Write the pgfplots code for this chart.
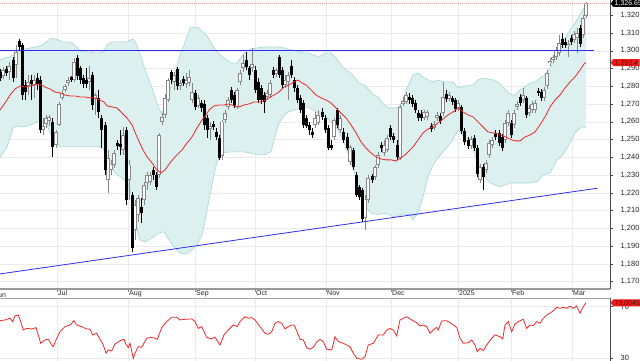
\documentclass[border=0pt]{standalone}
\usepackage{fontspec}
\setmainfont{Liberation Sans}
\usepackage{pgfplots}
\pgfplotsset{compat=1.18}
\usepackage{pgfplotstable}
\usepgfplotslibrary{fillbetween}
\usetikzlibrary{shapes.symbols}

\definecolor{bandfill}{RGB}{220,240,240}
\definecolor{bandline}{RGB}{165,214,214}
\definecolor{gridc}{RGB}{234,234,234}
\definecolor{bline}{RGB}{45,45,250}
\definecolor{rline}{RGB}{238,40,40}
\definecolor{tagred}{RGB}{250,20,20}
\definecolor{hollow}{RGB}{135,135,135}
\definecolor{pinkdot}{RGB}{250,165,165}

% down (black) candles: x open high low close
\pgfplotstableread{
x o h l c
0 1288.1 1289.8 1283.0 1284.7
6 1289.8 1291.5 1285.8 1287.5
13 1294.8 1296.5 1282.5 1284.7
19 1305.5 1306.7 1300.5 1302.2
22 1303.3 1304.4 1272.3 1275.1
25 1280.8 1283.6 1272.3 1276.8
31 1283.6 1286.4 1272.3 1281.3
37 1284.7 1287.5 1278.0 1281.3
40 1283.6 1285.8 1253.8 1255.4
52 1260.0 1262.2 1240.3 1245.9
71 1285.3 1285.8 1282.5 1283.6
77 1296.0 1297.7 1283.6 1285.8
80 1290.3 1291.5 1281.3 1283.6
83 1284.7 1286.4 1279.1 1281.3
86 1283.6 1290.3 1279.1 1281.3
92 1286.4 1288.1 1266.7 1269.5
98 1273.5 1278.0 1262.2 1265.6
101 1262.2 1263.9 1245.3 1255.4
105 1258.3 1260.0 1230.1 1232.9
117 1248.1 1249.8 1244.2 1246.4
120 1247.6 1255.4 1241.4 1245.9
126 1255.4 1257.1 1213.2 1216.1
132 1218.9 1220.6 1186.8 1189.1
141 1212.1 1217.2 1203.1 1208.7
153 1232.9 1234.6 1227.3 1230.1
156 1230.1 1231.8 1221.7 1223.4
171 1288.1 1289.2 1281.3 1283.6
177 1289.8 1290.9 1278.0 1280.2
183 1284.1 1285.8 1280.2 1281.9
195 1276.3 1278.0 1266.7 1268.4
201 1270.6 1272.3 1265.6 1267.8
204 1270.1 1272.3 1255.4 1258.3
207 1262.2 1263.9 1250.9 1255.4
213 1258.8 1260.5 1255.4 1257.1
216 1254.3 1256.6 1249.8 1251.5
219 1250.9 1252.6 1238.6 1239.7
231 1278.0 1279.6 1270.6 1272.3
234 1275.1 1276.8 1267.8 1269.5
246 1294.8 1299.3 1289.2 1290.9
249 1290.3 1291.5 1283.6 1286.4
255 1289.2 1291.5 1276.3 1278.0
258 1282.5 1284.7 1270.6 1272.3
261 1279.1 1280.8 1270.1 1272.3
264 1275.1 1276.8 1265.0 1271.2
273 1289.2 1290.9 1284.7 1286.4
279 1296.5 1297.7 1284.7 1286.4
282 1289.2 1290.9 1279.1 1280.8
291 1291.5 1294.8 1284.7 1286.4
294 1283.6 1285.3 1276.8 1279.1
297 1279.1 1280.8 1270.6 1272.3
300 1273.5 1275.1 1265.0 1266.7
303 1270.6 1272.3 1256.6 1258.3
306 1262.2 1263.9 1256.6 1257.7
309 1258.3 1260.0 1252.6 1255.4
312 1254.3 1256.6 1250.9 1252.6
322 1265.6 1267.8 1261.1 1262.8
325 1262.2 1263.9 1253.8 1255.4
328 1256.6 1258.3 1244.2 1245.3
331 1247.0 1249.8 1244.2 1245.3
337 1266.7 1267.8 1256.6 1258.3
343 1254.3 1256.6 1248.1 1249.8
347 1251.5 1253.8 1244.2 1245.3
353 1244.2 1245.3 1232.9 1234.6
356 1230.1 1231.8 1217.7 1218.9
359 1223.4 1224.5 1216.1 1217.7
362 1221.7 1222.8 1203.7 1205.4
372 1229.6 1230.7 1225.6 1227.3
381 1247.0 1248.7 1243.1 1245.3
390 1256.6 1258.3 1249.8 1251.5
393 1252.1 1253.8 1248.1 1249.8
397 1247.0 1249.8 1238.6 1240.3
409 1274.0 1276.3 1270.1 1272.3
412 1273.5 1275.1 1268.4 1270.1
415 1270.6 1272.3 1265.0 1266.7
418 1265.0 1266.7 1260.5 1262.2
421 1264.5 1266.7 1260.5 1262.2
431 1257.7 1259.4 1254.3 1256.0
440 1263.3 1265.0 1258.8 1260.5
446 1275.7 1278.0 1271.2 1272.9
452 1273.5 1274.6 1269.5 1271.2
455 1272.3 1273.5 1265.6 1267.3
461 1268.4 1269.5 1253.2 1254.9
464 1254.9 1256.6 1247.0 1248.7
468 1249.8 1251.5 1244.8 1246.4
474 1250.9 1252.6 1243.6 1245.3
477 1245.3 1247.0 1229.0 1230.7
483 1234.6 1236.3 1221.7 1229.0
495 1253.8 1255.4 1249.8 1251.5
499 1253.8 1255.4 1246.4 1248.1
502 1251.5 1253.2 1243.6 1245.3
511 1259.4 1261.1 1250.9 1252.6
520 1274.0 1275.7 1269.0 1270.6
526 1273.5 1274.6 1262.2 1263.9
538 1277.4 1279.1 1274.6 1276.3
541 1276.8 1278.5 1271.8 1273.5
562 1306.7 1310.0 1301.6 1303.3
565 1305.0 1307.2 1301.6 1303.3
571 1307.2 1308.9 1303.3 1305.0
580 1312.8 1314.5 1302.2 1303.8
}\down

% up (hollow) candles: x open high low close
\pgfplotstableread{
x o h l c
3 1285.8 1290.9 1284.1 1289.2
9 1288.1 1293.7 1283.6 1291.5
16 1292.0 1303.3 1284.7 1299.3
28 1280.2 1286.4 1275.1 1282.5
34 1280.8 1286.4 1273.5 1283.6
43 1255.4 1262.2 1252.6 1257.7
46 1258.8 1263.9 1256.6 1262.2
49 1260.5 1263.9 1257.7 1262.8
56 1247.0 1255.4 1245.3 1254.3
59 1258.3 1271.2 1257.7 1270.1
62 1273.5 1278.0 1272.3 1276.3
65 1278.0 1281.3 1276.8 1280.2
68 1281.9 1285.3 1280.2 1283.6
74 1283.6 1296.0 1282.5 1293.7
89 1282.5 1291.5 1278.0 1284.7
95 1272.9 1276.3 1263.9 1275.1
108 1227.3 1244.2 1220.0 1239.7
111 1232.9 1238.6 1230.1 1235.8
114 1235.8 1244.2 1234.1 1242.5
123 1244.2 1257.1 1241.4 1252.6
129 1227.3 1238.6 1216.1 1235.8
135 1199.2 1216.1 1193.6 1213.2
138 1207.6 1218.9 1203.7 1217.2
144 1216.1 1226.2 1213.2 1224.5
147 1225.6 1231.8 1221.7 1230.1
150 1226.2 1231.8 1224.5 1230.1
159 1230.1 1253.8 1228.4 1252.6
162 1260.0 1265.0 1258.3 1262.8
165 1263.9 1275.7 1262.2 1273.5
168 1272.3 1284.7 1271.2 1283.6
174 1282.5 1288.1 1278.0 1286.4
180 1280.2 1283.6 1278.0 1281.9
186 1281.3 1287.5 1279.1 1283.6
189 1281.9 1289.2 1280.2 1285.3
192 1272.3 1281.9 1270.6 1276.8
198 1269.0 1275.1 1267.8 1273.5
210 1256.0 1260.0 1249.8 1257.7
222 1240.8 1261.1 1238.6 1260.0
225 1261.1 1266.7 1259.4 1265.0
228 1268.4 1274.0 1266.7 1272.3
237 1268.4 1279.1 1267.3 1278.0
240 1282.5 1289.2 1280.8 1287.5
243 1290.3 1297.7 1288.1 1293.1
252 1290.3 1301.6 1288.1 1292.6
267 1274.0 1278.0 1272.3 1276.3
270 1275.1 1283.6 1273.5 1281.9
276 1287.0 1290.3 1285.3 1289.2
285 1280.8 1286.4 1279.1 1283.6
288 1282.5 1288.1 1272.3 1286.4
315 1258.3 1265.6 1256.6 1262.2
318 1259.4 1266.7 1258.3 1263.9
334 1251.5 1262.2 1249.8 1261.1
340 1255.4 1263.9 1253.8 1262.2
350 1237.4 1247.0 1235.8 1245.9
365 1205.9 1218.9 1199.2 1216.1
368 1216.1 1230.1 1214.4 1228.4
375 1229.0 1235.8 1227.3 1234.6
378 1235.8 1243.1 1234.1 1241.4
384 1242.5 1249.8 1240.8 1247.0
387 1244.2 1252.6 1243.1 1250.9
400 1239.7 1269.5 1238.6 1268.4
403 1270.1 1274.0 1269.0 1271.8
406 1271.2 1276.8 1270.1 1275.1
424 1262.2 1266.7 1261.1 1265.6
427 1262.8 1266.7 1261.1 1265.6
434 1256.6 1260.5 1255.4 1258.8
437 1262.2 1265.6 1260.5 1263.9
443 1265.0 1282.5 1263.3 1274.0
449 1272.9 1276.8 1271.8 1275.1
458 1267.8 1272.3 1266.1 1270.6
471 1246.4 1252.1 1244.8 1250.4
480 1227.3 1236.3 1225.6 1234.6
486 1232.9 1238.6 1231.3 1236.9
489 1241.4 1249.8 1239.7 1248.1
492 1247.0 1251.5 1245.3 1249.8
505 1249.8 1261.1 1248.1 1259.4
508 1259.4 1266.7 1257.7 1265.0
514 1258.3 1266.7 1256.6 1265.0
517 1268.4 1271.8 1266.7 1270.1
523 1272.3 1279.1 1270.6 1275.1
529 1265.0 1269.5 1263.3 1267.8
532 1266.7 1271.8 1265.0 1270.1
535 1266.7 1272.3 1265.0 1270.6
544 1273.5 1279.6 1271.8 1278.0
547 1280.2 1289.2 1278.5 1287.5
550 1293.1 1296.0 1291.5 1294.3
553 1294.8 1297.7 1293.1 1296.5
556 1296.5 1302.2 1294.8 1300.5
559 1298.8 1308.9 1297.1 1304.4
568 1302.7 1306.1 1296.5 1303.8
574 1306.1 1311.2 1304.4 1309.5
577 1307.2 1312.8 1298.8 1310.0
583 1308.9 1320.2 1307.2 1318.5
586 1319.6 1327.5 1318.5 1326.65
}\up

\pgfplotsset{
  candle/.style n args={2}{forget plot, draw=#1, line width=#2,
    quiver={u=0, every arrow/.append style={draw=#1, line width=#2, line cap=butt}}},
}

\begin{document}
\begin{tikzpicture}
\begin{axis}[
  at={(0pt,0pt)}, anchor=north west, scale only axis,
  width=610pt, height=289pt,
  xmin=0, xmax=610, ymin=1165.9, ymax=1328.6,
  clip mode=individual,
  axis x line*=bottom, axis y line*=right,
  x axis line style={draw=black!40, line width=1.2pt},
  y axis line style={draw=black!70, line width=0.6pt},
  tick align=outside, major tick length=2.5pt,
  xtick={57,128,195,255,326,391,458,511,572},
  xticklabels={Jul,Aug,Sep,Oct,Nov,Dec,2025,Feb,Mar},
  ytick={1170,1180,...,1320},
  xmajorgrids, ymajorgrids,
  grid style={draw=gridc, line width=0.6pt},
  xtick style={draw=black!50, line width=0.5pt},
  ytick style={draw=black!70, line width=0.5pt},
  xticklabel style={anchor=north west, font=\fontsize{7}{8}\selectfont, inner sep=0pt, xshift=1pt, yshift=1pt, text=black!85},
  yticklabel style={anchor=west, font=\fontsize{7.5}{8}\selectfont, inner sep=0pt, xshift=8pt, text=black!85},
  scaled y ticks=false,
  /pgf/number format/1000 sep={,},
  /pgf/number format/assume math mode=true,
]
% Bollinger bands
\addplot[name path=upper, draw=bandline, line width=0.6pt, forget plot] coordinates {
(0,1294.8)(5,1296.0)(10,1296.5)(15,1298.8)(20,1299.3)(25,1301.0)(30,1301.6)(35,1302.2)(40,1302.7)(45,1304.4)(50,1306.7)(53,1307.2)(58,1306.1)(63,1305.0)(70,1305.0)(75,1303.3)(80,1299.9)(85,1299.3)(90,1299.3)(95,1298.8)(100,1298.8)(103,1299.3)(107,1303.3)(112,1305.0)(120,1305.0)(127,1305.0)(133,1306.7)(137,1303.3)(142,1294.8)(147,1286.4)(152,1279.1)(157,1270.6)(161,1265.0)(165,1268.4)(169,1276.3)(174,1285.3)(179,1296.0)(185,1305.0)(190,1312.8)(194,1313.4)(199,1312.8)(204,1310.0)(207,1308.3)(211,1304.4)(217,1299.3)(224,1296.0)(231,1293.1)(237,1293.1)(244,1298.8)(251,1301.0)(257,1301.6)(264,1302.2)(271,1302.2)(277,1302.2)(284,1301.6)(291,1300.5)(297,1299.9)(304,1298.8)(308,1298.8)(313,1297.7)(319,1296.5)(326,1298.8)(331,1298.8)(336,1296.0)(341,1292.0)(346,1289.2)(353,1286.4)(359,1281.9)(364,1280.8)(369,1278.0)(374,1275.1)(379,1273.5)(384,1269.5)(389,1267.8)(394,1267.8)(399,1268.4)(403,1272.3)(406,1278.0)(410,1282.5)(413,1286.4)(418,1287.5)(423,1285.3)(428,1283.6)(433,1282.5)(438,1283.6)(443,1282.5)(448,1282.5)(453,1282.5)(458,1279.1)(463,1280.2)(468,1280.2)(473,1280.8)(478,1283.6)(483,1284.7)(488,1284.1)(493,1283.6)(498,1282.5)(503,1279.6)(508,1276.8)(512,1275.1)(515,1275.1)(520,1278.0)(525,1279.6)(530,1281.9)(535,1282.5)(540,1284.7)(545,1286.4)(550,1290.3)(555,1294.8)(560,1300.5)(565,1307.2)(570,1311.7)(575,1315.7)(580,1320.2)(584,1324.1)(586,1325.8)
};
\addplot[name path=lower, draw=bandline, line width=0.6pt, forget plot] coordinates {
(0,1240.3)(3,1242.5)(7,1245.9)(10,1250.9)(13,1256.6)(17,1257.7)(23,1257.1)(30,1258.3)(37,1260.0)(42,1260.0)(47,1258.3)(50,1253.8)(55,1248.7)(60,1245.9)(67,1245.9)(80,1245.9)(93,1245.9)(100,1245.9)(104,1244.2)(109,1236.9)(115,1231.3)(122,1228.4)(127,1226.2)(130,1221.7)(134,1212.1)(137,1199.2)(140,1193.6)(145,1192.4)(152,1194.7)(159,1197.5)(164,1198.1)(169,1193.6)(174,1189.6)(180,1186.2)(187,1185.7)(192,1187.9)(197,1190.7)(202,1196.4)(205,1203.7)(208,1213.2)(211,1221.7)(214,1230.1)(217,1237.4)(222,1242.5)(231,1243.1)(237,1243.1)(244,1243.1)(251,1242.5)(257,1241.4)(264,1241.4)(271,1243.1)(274,1249.8)(279,1259.4)(286,1265.0)(294,1266.7)(301,1267.8)(308,1268.4)(316,1265.6)(326,1262.8)(336,1257.1)(343,1249.8)(349,1240.3)(356,1229.0)(361,1220.0)(366,1212.1)(371,1208.7)(378,1207.6)(386,1208.7)(393,1206.5)(399,1207.1)(404,1208.2)(410,1207.6)(413,1204.8)(418,1208.7)(423,1217.7)(428,1229.0)(433,1235.8)(438,1239.7)(443,1243.1)(448,1246.4)(453,1249.8)(458,1255.4)(463,1252.1)(468,1248.7)(473,1244.8)(478,1236.9)(485,1229.0)(490,1225.6)(495,1224.5)(500,1223.4)(505,1224.5)(510,1225.6)(520,1225.6)(530,1225.6)(537,1226.2)(543,1230.1)(550,1231.3)(557,1238.6)(563,1241.4)(570,1248.1)(575,1253.8)(580,1256.6)(586,1256.6)
};
\addplot[bandfill, forget plot] fill between[of=upper and lower];

% wicks (vertical segments from low to high)
\addplot[candle={hollow}{0.7pt}, quiver={v=\thisrow{h}-\thisrow{l}}] table[x=x, y=l] {\up};
\addplot[candle={black}{0.7pt}, quiver={v=\thisrow{h}-\thisrow{l}}] table[x=x, y=l] {\down};
% hollow bodies (up candles): grey outline then white inside
\addplot[candle={hollow}{3.2pt}, quiver={v=\thisrow{c}-\thisrow{o}}] table[x=x, y=o] {\up};
\addplot[candle={white}{1.8pt}, quiver={v=\thisrow{c}-\thisrow{o}-0.7}] table[x=x, y expr={\thisrow{o}+0.35}] {\up};
% black bodies (down candles)
\addplot[candle={black}{3pt}, quiver={v=\thisrow{c}-\thisrow{o}}] table[x=x, y=o] {\down};

% 20-day moving average
\addplot[rline, line width=0.8pt, forget plot] coordinates {
(0,1266.7)(5,1270.6)(10,1275.1)(15,1278.5)(20,1280.2)(25,1279.6)(30,1280.2)(35,1280.8)(40,1281.3)(45,1279.6)(50,1278.5)(55,1276.8)(60,1276.3)(65,1275.1)(70,1274.6)(75,1274.6)(80,1274.0)(85,1274.0)(90,1273.5)(95,1273.5)(100,1272.3)(104,1271.2)(107,1269.0)(112,1268.4)(117,1267.8)(122,1265.0)(127,1262.2)(132,1258.3)(137,1251.5)(142,1245.3)(147,1240.3)(152,1236.9)(157,1232.9)(161,1231.3)(165,1232.9)(170,1236.9)(175,1240.3)(182,1244.2)(187,1248.1)(192,1251.5)(197,1256.6)(202,1261.1)(206,1263.9)(209,1266.7)(214,1269.0)(219,1269.5)(224,1269.5)(229,1270.1)(234,1269.0)(239,1268.4)(244,1269.5)(249,1270.1)(254,1271.2)(259,1271.2)(264,1271.8)(269,1273.5)(274,1275.1)(279,1276.8)(284,1279.6)(289,1280.8)(294,1282.5)(298,1283.6)(302,1281.9)(306,1280.8)(311,1278.0)(316,1275.1)(321,1273.5)(326,1272.3)(331,1270.6)(336,1267.8)(341,1265.0)(346,1262.2)(351,1258.3)(356,1253.8)(361,1248.7)(366,1245.3)(371,1242.5)(376,1240.3)(381,1239.1)(386,1238.6)(391,1238.6)(396,1238.0)(401,1239.7)(406,1241.9)(410,1244.2)(413,1245.9)(418,1249.8)(423,1253.8)(428,1256.0)(433,1257.1)(438,1259.4)(443,1261.6)(448,1263.9)(453,1265.6)(458,1267.8)(463,1265.6)(468,1263.9)(473,1262.8)(478,1260.0)(483,1257.1)(488,1254.3)(493,1253.8)(498,1253.2)(503,1252.1)(508,1250.9)(512,1249.8)(515,1249.3)(520,1249.3)(525,1251.5)(530,1252.6)(535,1254.3)(540,1258.3)(545,1262.8)(550,1268.4)(555,1272.3)(560,1275.1)(565,1279.1)(570,1282.5)(575,1285.3)(580,1289.2)(584,1292.6)(586,1293.4)
};
% horizontal resistance and rising trend line
\addplot[bline, line width=0.8pt, forget plot] coordinates {(0,1300.5) (594,1300.5)};
\addplot[bline, line width=0.8pt, forget plot] coordinates {(0,1174.4) (597,1222.6)};
% last price
\addplot[pinkdot, line width=0.7pt, dash pattern=on 1pt off 1pt, forget plot] coordinates {(0,1326.65) (610,1326.65)};

\node[anchor=north west, font=\fontsize{7}{8}\selectfont, inner sep=0pt, text=black!85] at (axis cs:-5.5,1165.9) [yshift=-3.5pt] {Jun};

\node[signal, signal to=west, signal pointer angle=110, fill=black, text=white,
  font=\fontsize{7}{7}\selectfont, inner xsep=1.5pt, inner ysep=1pt,
  text height=5pt, text depth=0pt, anchor=west] at (axis cs:610.5,1326.65) {1,326.65};
\node[signal, signal to=west, signal pointer angle=110, fill=tagred, text=black!85,
  font=\fontsize{7}{7}\selectfont, inner xsep=1.5pt, inner ysep=1pt,
  text height=5pt, text depth=0pt, anchor=west] at (axis cs:610.5,1293.4) {1,293.4};
\end{axis}

\begin{axis}[
  at={(0pt,-298pt)}, anchor=north west, scale only axis,
  width=610pt, height=64pt,
  xmin=0, xmax=610, ymin=27.1, ymax=76.7,
  clip mode=individual,
  axis x line*=top, axis y line*=right,
  x axis line style={draw=black!35, line width=1pt},
  y axis line style={draw=black!70, line width=0.6pt},
  tick align=outside, major tick length=2.5pt,
  xtick={57,128,195,255,326,391,458,511,572},
  xticklabels={}, xtick style={draw=none},
  ytick={30,70},
  xmajorgrids, ymajorgrids,
  grid style={draw=gridc, line width=0.6pt},
  ytick style={draw=black!70, line width=0.5pt},
  yticklabel style={anchor=west, font=\fontsize{7.5}{8}\selectfont, inner sep=0pt, xshift=8pt, text=black!85},
  /pgf/number format/assume math mode=true,
]
\addplot[rline, line width=0.8pt, forget plot] coordinates {
(0,59.1)(5,59.7)(10,61.0)(12.7,58.4)(15,62.8)(18.3,63.6)(20.7,58.4)(23.3,51.9)(26.7,53.2)(31.7,52.7)(36,53.7)(38.3,48.1)(40.7,41.6)(45,44.2)(48.3,44.7)(51.7,40.3)(53.3,39.0)(56.7,45.5)(60,50.6)(65,54.5)(70,55.8)(74,59.1)(76.7,55.8)(81.7,54.5)(86.7,52.7)(90,52.5)(92.7,48.1)(96.7,49.4)(100,44.7)(103.3,40.3)(106,33.9)(108.3,36.4)(111.7,35.7)(115,41.1)(120,43.6)(124,44.7)(126,40.8)(128.3,38.2)(130,41.6)(133.3,30.0)(135,33.9)(138.3,39.0)(141.7,38.5)(146.7,45.5)(150.7,46.3)(155,45.5)(157.3,44.7)(161.7,53.7)(166.7,58.4)(171.7,61.8)(176.7,61.8)(180,59.7)(185,60.2)(191.7,60.5)(195,58.4)(198.3,53.2)(201.7,54.5)(206.7,46.3)(210.7,45.0)(215,46.3)(220,40.3)(224,48.1)(228.3,51.9)(233.3,55.8)(237.3,54.5)(240,58.4)(245,62.2)(248.3,61.0)(251.7,61.5)(255,59.7)(260,54.5)(265,49.4)(268.3,48.6)(271.7,50.6)(275,57.1)(278.3,58.4)(281.7,57.1)(285,52.7)(287.3,54.0)(291.7,55.8)(294,55.8)(296.7,51.4)(300,44.7)(303.3,44.2)(306.7,38.2)(310,37.0)(313.3,38.5)(316.7,42.6)(320,44.5)(323.3,42.9)(326.7,37.0)(331.7,36.4)(335,46.7)(338.3,42.9)(343.3,41.6)(350,39.0)(353.3,33.9)(356.7,30.0)(361.7,29.2)(365,31.2)(368.3,40.3)(373.3,41.6)(378.3,48.1)(383.3,48.1)(386.7,51.9)(390,53.2)(393.3,51.9)(396.7,47.3)(400,59.7)(406.7,62.2)(411.7,59.7)(416.7,57.6)(420,55.0)(423.3,55.8)(426.7,54.5)(430,49.4)(433.3,51.9)(436.7,54.0)(438.3,51.9)(441.7,58.9)(446.7,59.1)(450,57.6)(453.3,55.8)(456.7,54.0)(460,45.5)(463.3,41.6)(468.3,42.1)(471.7,44.2)(475,40.3)(477.3,35.1)(480,37.7)(483.3,35.9)(486.7,40.3)(491.7,45.5)(495,48.1)(500,46.7)(502.7,45.0)(505,55.8)(508.3,58.4)(511.7,50.6)(515,56.6)(520,59.1)(523.3,60.2)(526.7,53.2)(530,55.8)(533.3,55.3)(536.7,58.4)(540,57.1)(543.3,61.0)(546.7,63.6)(550,64.9)(553.3,66.9)(556.7,69.5)(560,68.7)(563.3,69.5)(566.7,68.7)(570,70.5)(573.3,68.7)(576.7,70.5)(580,64.9)(583.3,70.0)(586,73.0)
};
\node[signal, signal to=west, signal pointer angle=110, fill=tagred, text=black!85,
  font=\fontsize{7}{7}\selectfont, inner xsep=1.5pt, inner ysep=1pt,
  text height=5pt, text depth=0pt, anchor=west] at (axis cs:610.5,73.0) {73.0045};
\end{axis}
\pgfresetboundingbox
\path[use as bounding box] (0pt,0pt) rectangle (640pt,-360pt);
\end{tikzpicture}
\end{document}
